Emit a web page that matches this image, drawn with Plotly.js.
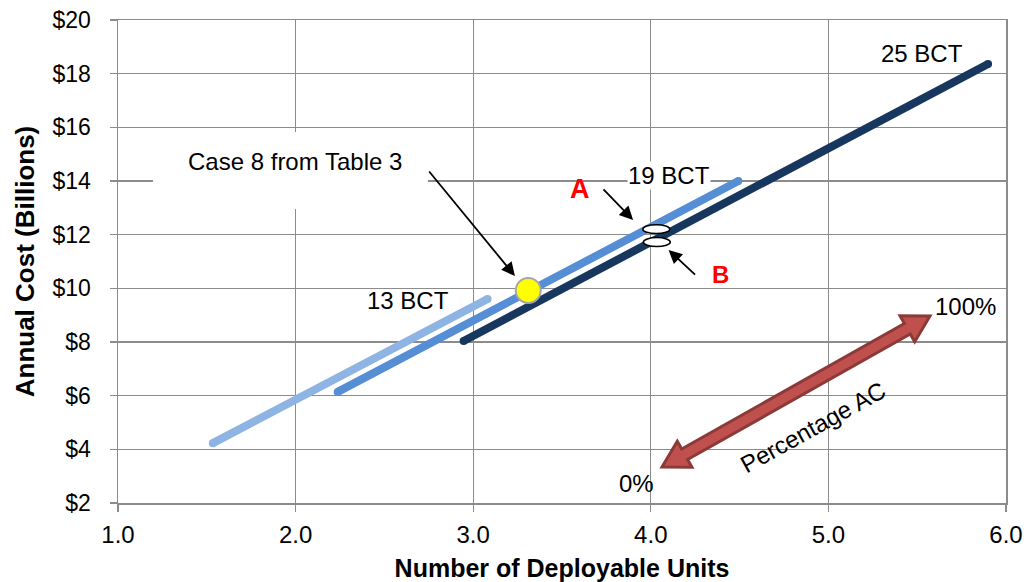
<!DOCTYPE html>
<html>
<head>
<meta charset="utf-8">
<script src="https://cdn.plot.ly/plotly-3.0.1.min.js"></script>
<style>html,body{margin:0;padding:0;background:#fff;}#chart{width:1028px;height:582px;}</style>
</head>
<body>
<div id="chart"></div>
<script>
// ---- data ----
const bct13X = [1.534, 3.081];
const bct13Y = [4.23, 9.60];
const bct19X = [2.237, 4.493];
const bct19Y = [6.14, 14.00];
const bct25X = [2.946, 5.899];
const bct25Y = [8.04, 18.36];
const case8X = [3.31];
const case8Y = [9.92];
const yTicks = [2, 4, 6, 8, 10, 12, 14, 16, 18, 20];
const yTickText = ['$2', '$4', '$6', '$8', '$10', '$12', '$14', '$16', '$18', '$20'];
const xTicks = [1, 2, 3, 4, 5, 6];
const xTickText = ['1.0', '2.0', '3.0', '4.0', '5.0', '6.0'];

const FONT = '"Liberation Sans", Arial, sans-serif';
const GRID = '#8c8c8c';
const W = 1028, H = 582;
const M = {l: 118, r: 22, t: 20, b: 79};
const plotW = W - M.l - M.r, plotH = H - M.t - M.b;
const pxX = plotW / 5, pxY = plotH / 18;

function lineTrace(x, y, color) {
  return {x: x, y: y, type: 'scatter', mode: 'lines+markers',
    line: {color: color, width: 8},
    marker: {color: color, size: 8, line: {width: 0}},
    hoverinfo: 'skip', showlegend: false};
}

const traces = [
  lineTrace(bct13X, bct13Y, '#8EB4E3'),
  lineTrace(bct19X, bct19Y, '#558ED5'),
  lineTrace(bct25X, bct25Y, '#17375E'),
  {x: case8X, y: case8Y, type: 'scatter', mode: 'markers',
   marker: {color: '#FFFF00', size: 25, line: {color: '#A6A6A6', width: 2}},
   hoverinfo: 'skip', showlegend: false}
];

// double-headed arrow (Percentage AC) built in pixel offsets, converted to data
function arrowPath(x0, y0, x1, y1) {
  const dxp = (x1 - x0) * pxX, dyp = -(y1 - y0) * pxY;
  const L = Math.hypot(dxp, dyp);
  const ux = dxp / L, uy = dyp / L, nx = -uy, ny = ux;
  const hw = 6, HW = 15, HL = 26;
  const pts = [
    [0, 0],
    [ux*HL + nx*HW, uy*HL + ny*HW],
    [ux*HL + nx*hw, uy*HL + ny*hw],
    [ux*(L-HL) + nx*hw, uy*(L-HL) + ny*hw],
    [ux*(L-HL) + nx*HW, uy*(L-HL) + ny*HW],
    [ux*L, uy*L],
    [ux*(L-HL) - nx*HW, uy*(L-HL) - ny*HW],
    [ux*(L-HL) - nx*hw, uy*(L-HL) - ny*hw],
    [ux*HL - nx*hw, uy*HL - ny*hw],
    [ux*HL - nx*HW, uy*HL - ny*HW]
  ];
  return pts.map((p, i) => (i ? 'L' : 'M') + (x0 + p[0]/pxX).toFixed(4) + ',' + (y0 - p[1]/pxY).toFixed(4)).join(' ') + ' Z';
}

const shapes = [
  {type: 'rect', xref: 'x', yref: 'y', x0: 1.197, x1: 2.745, y0: 12.96, y1: 15.83,
   fillcolor: '#ffffff', line: {width: 0}, layer: 'above'},
  {type: 'circle', xref: 'x', yref: 'y', x0: 3.955, x1: 4.107, y0: 12.04, y1: 12.37,
   fillcolor: '#ffffff', line: {color: '#000000', width: 1.5}, layer: 'above'},
  {type: 'circle', xref: 'x', yref: 'y', x0: 3.958, x1: 4.110, y0: 11.56, y1: 11.89,
   fillcolor: '#ffffff', line: {color: '#000000', width: 1.5}, layer: 'above'},
  {type: 'path', xref: 'x', yref: 'y', path: arrowPath(4.063, 3.34, 5.572, 8.97),
   fillcolor: '#C0504D', line: {color: '#8C3A38', width: 3}, layer: 'above'}
];

const AF = 24;
const tf = {family: FONT, size: AF, color: '#000'};
function txt(x, y, text, extra) {
  return Object.assign({x: x, y: y, xref: 'x', yref: 'y', text: text, showarrow: false,
    font: tf, xanchor: 'center', yanchor: 'middle'}, extra || {});
}
function arr(x, y, ax, ay) {
  return {x: x, y: y, xref: 'x', yref: 'y', ax: ax, ay: ay, text: '', showarrow: true,
    arrowhead: 2, arrowsize: 1.5, arrowwidth: 1.8, arrowcolor: '#000'};
}

const annotations = [
  txt(1.997, 14.71, 'Case 8 from Table 3'),
  arr(3.235, 10.46, -87, -106),
  txt(2.633, 9.56, '13 BCT'),
  txt(4.10, 14.22, '19 BCT', {bgcolor: '#ffffff', borderpad: 0}),
  txt(5.527, 18.77, '25 BCT'),
  txt(3.60, 13.70, '<b>A</b>', {font: {family: FONT, size: 27, color: '#FF0000'}}),
  txt(4.39, 10.50, '<b>B</b>', {font: {family: FONT, size: 24, color: '#FF0000'}}),
  arr(3.90, 12.55, -31, -32),
  arr(4.10, 11.43, 28, 26),
  txt(3.92, 2.71, '0%'),
  txt(5.77, 9.34, '100%'),
  txt(4.91, 4.83, 'Percentage AC', {textangle: -29})
];

const layout = {
  width: W, height: H, margin: M,
  paper_bgcolor: '#ffffff', plot_bgcolor: '#ffffff',
  font: {family: FONT, size: 23, color: '#000'},
  showlegend: false,
  xaxis: {range: [1, 6], tickvals: xTicks, ticktext: xTickText,
    showgrid: true, gridcolor: GRID, gridwidth: 1.3, zeroline: false,
    showline: true, linecolor: GRID, linewidth: 1.5, mirror: true,
    ticks: 'outside', ticklen: 7, tickcolor: GRID, tickwidth: 1.3,
    tickfont: {family: FONT, size: 24, color: '#000'}, ticklabelstandoff: 3,
    title: {text: '<b>Number of Deployable Units</b>', font: {family: FONT, size: 25, color: '#000'}, standoff: 12},
    fixedrange: true},
  yaxis: {range: [2, 20], tickvals: yTicks, ticktext: yTickText,
    showgrid: true, gridcolor: GRID, gridwidth: 1.3, zeroline: false,
    showline: true, linecolor: GRID, linewidth: 1.5, mirror: true,
    ticks: 'outside', ticklen: 7, tickcolor: GRID, tickwidth: 1.3,
    tickfont: {family: FONT, size: 23, color: '#000'}, ticklabelstandoff: 14,
    title: {text: '<b>Annual Cost (Billions)</b>', font: {family: FONT, size: 26, color: '#000'}, standoff: 10},
    fixedrange: true},
  shapes: shapes,
  annotations: annotations
};

Plotly.newPlot('chart', traces, layout, {displayModeBar: false, staticPlot: true});
</script>
</body>
</html>
